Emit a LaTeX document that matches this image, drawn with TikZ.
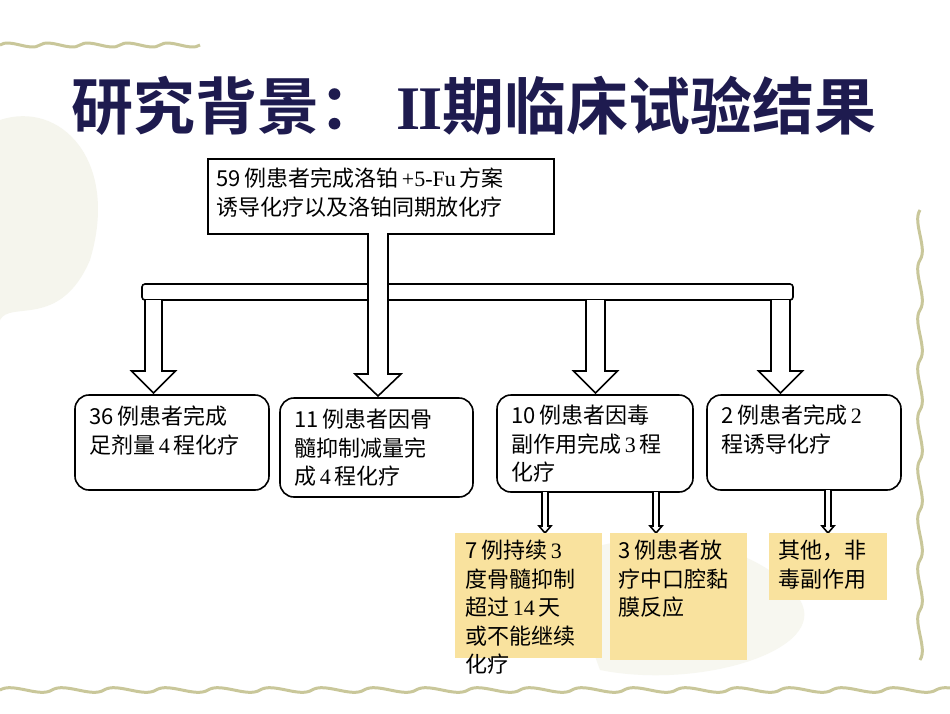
\documentclass[tikz,border=0pt]{standalone}
\usepackage{fontspec}
\setmainfont{Liberation Serif}
\newfontfamily\cjk{Noto Sans CJK SC}
\newfontfamily\cjkb{Noto Sans CJK SC}[BoldFont={* Bold}]
\begin{document}
\newcommand{\blkarrow}[6]{% cx, y1, y2, stem half, head half, head length
  \draw[line width=1.6pt,fill=white,line join=miter]
   (#1-#4,#2) -- (#1-#4,#3-#6) -- (#1-#5,#3-#6) -- (#1,#3) -- (#1+#5,#3-#6)
   -- (#1+#4,#3-#6) -- (#1+#4,#2);}
\begin{tikzpicture}[x=1pt,y=-1pt,
  txt/.style={font=\fontsize{22}{28.5}\selectfont\cjk,align=left,anchor=north west,inner sep=0pt},
  box/.style={draw,line width=1.6pt,rounded corners=14pt,fill=white},
  ybox/.style={fill=yellowbox,draw=none}]
\definecolor{yellowbox}{HTML}{F9E29E}
\definecolor{navy}{HTML}{1E1B4F}
\definecolor{vine}{HTML}{C9C79A}
\useasboundingbox (0,0) rectangle (950,713);
\fill[white] (0,0) rectangle (950,713);
% decorative background
\fill[vine!18] (0,120) .. controls (60,100) and (120,160) .. (90,260) .. controls (60,330) and (10,300) .. (0,320) -- cycle;
\fill[vine!15] (560,560) .. controls (640,520) and (760,540) .. (800,600) .. controls (830,650) and (700,690) .. (600,670) -- cycle;
\draw[vine,line width=3pt] (0,690) \foreach \i in {0,...,18}{ .. controls (\i*52+13,682) and (\i*52+39,698) .. (\i*52+52,690)};
\draw[vine,line width=3pt] (920,210) \foreach \i in {0,...,8}{ .. controls (912,210+\i*50+12) and (928,210+\i*50+38) .. (920,210+\i*50+50)};
\draw[vine,line width=3pt] (0,45) \foreach \i in {0,...,4}{ .. controls (\i*40+10,38) and (\i*40+30,52) .. (\i*40+40,45)};
% title
\node[font=\fontsize{62}{68}\selectfont\cjkb\bfseries,text=navy,inner sep=0pt] (title) at (474,106) {研究背景：{\rmfamily\ I}\kern-2pt{\rmfamily I}期临床试验结果};
% top box
\node[draw,line width=1.6pt,fill=white,minimum width=346pt,minimum height=75pt,anchor=north west,inner sep=0pt] (top) at (207,158) {};
\node[txt] (toptxt) at (216,168) {59\,例患者完成洛铂{\rmfamily\,+5-Fu\,}方案\\诱导化疗以及洛铂同期放化疗};
% bar
\draw[line width=1.6pt,fill=white,rounded corners=3pt] (142,284) rectangle (793,300);
\blkarrow{153.5}{300}{393}{8.5}{22}{22}
\blkarrow{378}{233}{396}{10}{23}{22}
\blkarrow{595.5}{300}{393}{9.5}{22}{22}
\blkarrow{780.5}{300}{393}{9.5}{22}{22}
% boxes
\draw[box] (75,395) rectangle (269,490);
\node[txt] (b1) at (89,406) {36\,例患者完成\\足剂量{\rmfamily\,4\,}程化疗};
\draw[box] (280,398) rectangle (473,497);
\node[txt] (b2) at (294,409) {11\,例患者因骨\\髓抑制减量完\\成{\rmfamily\,4\,}程化疗};
\draw[box] (497,395) rectangle (693,492);
\node[txt] (b3) at (511,405) {10\,例患者因毒\\副作用完成{\rmfamily\,3\,}程\\化疗};
\draw[box] (707,395) rectangle (901,490);
\node[txt] (b4) at (721,405) {2\,例患者完成{\rmfamily\,2}\\程诱导化疗};
% small arrows
\blkarrow{545}{492}{533}{3}{6}{7}
\blkarrow{656}{492}{533}{3}{6}{7}
\blkarrow{828}{490}{533}{3}{6}{7}
% yellow boxes
\fill[ybox] (455,533) rectangle (602,658);
\fill[ybox] (610,533) rectangle (747,660);
\fill[ybox] (769,533) rectangle (887,600);
\node[txt] (y1) at (465,540) {7\,例持续{\rmfamily\,3}\\度骨髓抑制\\超过{\rmfamily\,14\,}天\\或不能继续\\化疗};
\node[txt] (y2) at (618,540) {3\,例患者放\\疗中口腔黏\\膜反应};
\node[txt] (y3) at (778,540) {其他，非\\毒副作用};
\end{tikzpicture}
\end{document}
